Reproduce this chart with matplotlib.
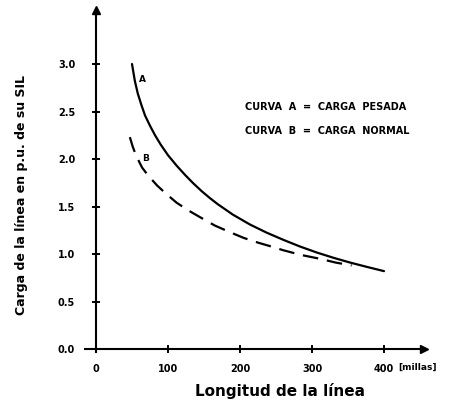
import matplotlib
matplotlib.use("Agg")
import matplotlib.pyplot as plt

# Curve A: heavy load (carga pesada)
miles_a = [50, 54, 58, 63, 68, 75, 82, 90, 100, 112, 124, 135, 147, 158, 169,
           190, 214, 237, 260, 283, 307, 330, 353, 376, 400]
load_a = [3.00, 2.82, 2.69, 2.57, 2.46, 2.35, 2.25, 2.15, 2.04, 1.93, 1.83, 1.745,
          1.66, 1.59, 1.525, 1.415, 1.31, 1.225, 1.15, 1.08, 1.015, 0.96, 0.91,
          0.865, 0.82]

# Curve B: normal load (carga normal)
miles_b = [47, 51, 55, 60, 64, 72, 85, 98, 112, 128, 144, 165, 186, 205, 225,
           243, 260, 285, 311, 333, 355]
load_b = [2.23, 2.13, 2.05, 1.97, 1.91, 1.83, 1.72, 1.63, 1.54, 1.46, 1.39, 1.30,
          1.23, 1.17, 1.12, 1.08, 1.04, 0.99, 0.95, 0.91, 0.88]

x_ticks = [0, 100, 200, 300, 400]
x_tick_labels = ["0", "100", "200", "300", "400"]
y_ticks = [0.0, 0.5, 1.0, 1.5, 2.0, 2.5, 3.0]
y_tick_labels = ["0.0", "0.5", "1.0", "1.5", "2.0", "2.5", "3.0"]

legend_lines = ["CURVA  A  =  CARGA  PESADA", "CURVA  B  =  CARGA  NORMAL"]

plt.rcParams["font.family"] = ["DejaVu Sans"]
plt.rcParams["font.weight"] = "bold"

fig = plt.figure(figsize=(4.52, 4.03), dpi=100)
ax = fig.add_axes([0.1885, 0.1268, 0.7487, 0.8488])
ax.set_xlim(-15, 455)
ax.set_ylim(-0.03, 3.57)

ax.plot(miles_a, load_a, color="black", lw=1.6, solid_capstyle="round",
        solid_joinstyle="round")
ax.plot(miles_b, load_b, color="black", lw=1.6, dashes=(7, 4))

ax.text(65, 2.84, "A", fontsize=6.5, fontweight="bold", ha="center", va="center")
ax.text(69, 2.01, "B", fontsize=6.5, fontweight="bold", ha="center", va="center")

ax.text(207, 2.55, legend_lines[0], fontsize=7, fontweight="bold", va="center")
ax.text(207, 2.29, legend_lines[1], fontsize=7, fontweight="bold", va="center")

# Axes drawn as arrows through the origin
for side in ("top", "right"):
    ax.spines[side].set_visible(False)
for side in ("left", "bottom"):
    ax.spines[side].set_position(("data", 0))
    ax.spines[side].set_linewidth(1.5)
ax.plot(1, 0, ">k", markersize=6, transform=ax.get_yaxis_transform(), clip_on=False)
ax.plot(0, 1, "^k", markersize=6, transform=ax.get_xaxis_transform(), clip_on=False)

ax.set_xticks(x_ticks)
ax.set_xticklabels(x_tick_labels)
ax.set_yticks(y_ticks)
ax.set_yticklabels(y_tick_labels)
ax.tick_params(axis="both", direction="inout", length=6, width=1.4, labelsize=7)
ax.tick_params(axis="y", pad=12)
ax.tick_params(axis="x", pad=8)
for lab in ax.get_xticklabels() + ax.get_yticklabels():
    lab.set_fontweight("bold")

ax.text(420, -0.19, "[millas]", fontsize=6.5, fontweight="bold", va="center", ha="left")

fig.text(280 / 452, 1 - 391 / 403, "Longitud de la línea", fontsize=11,
         fontweight="bold", ha="center", va="center")
fig.text(22 / 452, 1 - 195 / 403, "Carga de la línea en p.u. de su SIL", fontsize=9,
         fontweight="bold", ha="center", va="center", rotation=90)

fig.savefig("out.png", dpi=100)
